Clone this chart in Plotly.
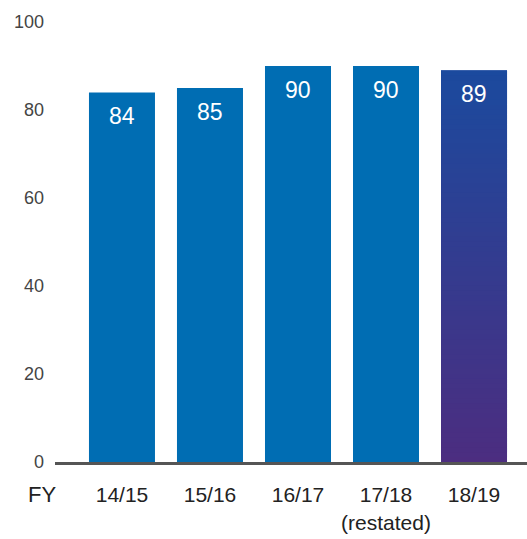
import plotly.graph_objects as go

# Data
categories = ["14/15", "15/16", "16/17", "17/18<br>(restated)", "18/19"]
values = [84, 85, 90, 90, 89]
y_ticks = [0, 20, 40, 60, 80, 100]

base_color = "#006db3"
grad_top = (27, 74, 158)
grad_bottom = (76, 45, 128)
font_family = "Liberation Sans, Arial, sans-serif"

fig = go.Figure()

# Gradient fill for the latest year: overlapping thin slices with interpolated colours
n_slices = 80
last_idx = len(values) - 1
last_val = values[last_idx]
slice_h = last_val / n_slices
for k in range(n_slices):
    t = (k + 0.5) / n_slices
    c = tuple(round(grad_bottom[i] + (grad_top[i] - grad_bottom[i]) * t) for i in range(3))
    b = k * slice_h
    fig.add_trace(go.Bar(
        x=[categories[last_idx]], y=[min(3 * slice_h, last_val - b)], base=[b],
        marker=dict(color="rgb(%d,%d,%d)" % c, line=dict(width=0)),
        width=0.75, hoverinfo="skip", showlegend=False,
    ))

# Main bars (latest year drawn transparent over the gradient)
colors = [base_color] * len(values)
colors[last_idx] = "rgba(0,0,0,0)"
fig.add_trace(go.Bar(
    x=categories, y=values,
    marker=dict(color=colors, line=dict(width=0)),
    width=0.75, showlegend=False,
))

# Value labels just inside the top of each bar
for cat, v in zip(categories, values):
    fig.add_annotation(
        x=cat, y=v, text=str(v), showarrow=False,
        yanchor="top", yshift=-9,
        font=dict(family=font_family, size=23, color="white"),
    )

# "FY" prefix beside the category labels
fig.add_annotation(
    xref="paper", yref="paper", x=-0.027, y=0, yshift=-32,
    text="FY", showarrow=False, xanchor="center", yanchor="middle",
    font=dict(family=font_family, size=22, color="#222222"),
)

fig.update_layout(
    width=527, height=539,
    margin=dict(l=55, r=0, t=22, b=77),
    plot_bgcolor="white", paper_bgcolor="white",
    barmode="overlay",
    font=dict(family=font_family, color="#333333"),
)
fig.update_xaxes(
    type="category", categoryorder="array", categoryarray=categories,
    range=[-0.761, 4.602],
    showgrid=False, zeroline=False,
    showline=True, linecolor="#555555", linewidth=3,
    ticks="", tickfont=dict(size=21, color="#222222"),
    ticklabelstandoff=12,
)
fig.update_yaxes(
    range=[0, 100], tickvals=y_ticks,
    showgrid=False, zeroline=False, showline=False,
    ticks="", tickfont=dict(size=18, color="#444444"),
    ticklabelstandoff=10,
)

fig.write_html("out.html")
